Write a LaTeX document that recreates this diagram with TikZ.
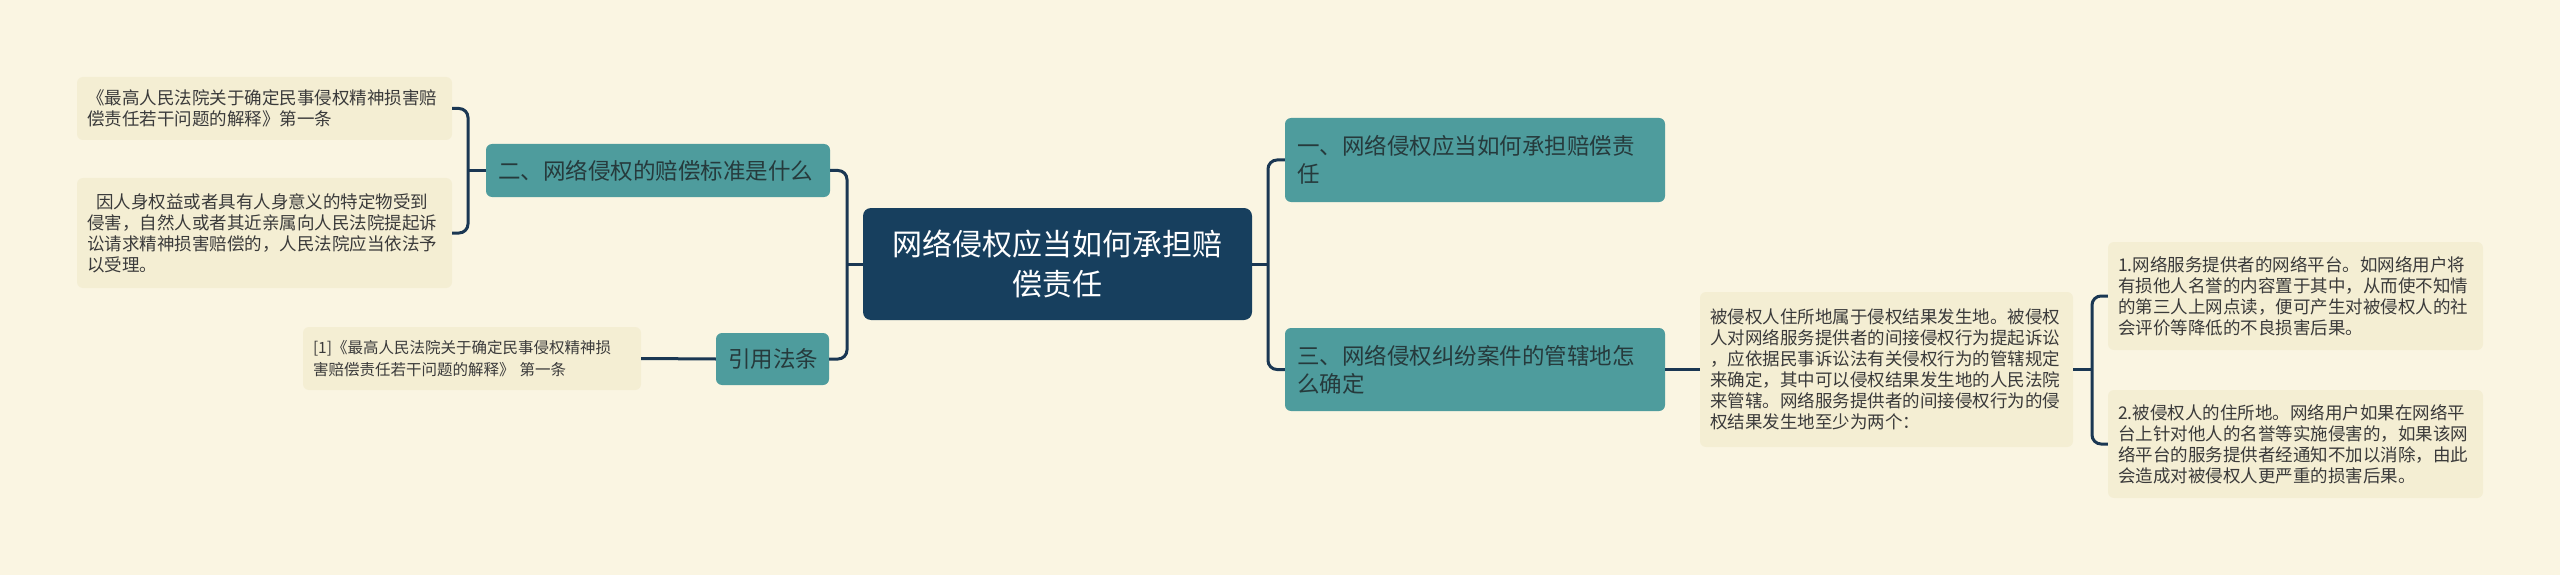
\documentclass[tikz,border=0pt]{standalone}
\usepackage{fontspec}
\newfontfamily\cjk{Noto Sans CJK SC}
\definecolor{bgc}{HTML}{FAF5E2}
\definecolor{leafc}{HTML}{F4EED3}
\definecolor{leaftext}{HTML}{3A3A3A}
\definecolor{tealc}{HTML}{4E9C9D}
\definecolor{topictext}{HTML}{263A3C}
\definecolor{navyc}{HTML}{173F5E}
\definecolor{linec}{HTML}{1A3753}
\begin{document}
\begin{tikzpicture}[x=1pt,y=-1pt,
  leaf/.style={fill=leafc, rounded corners=6pt, inner xsep=10pt, inner ysep=0pt, align=left,
    font=\cjk\fontsize{17.5}{21}\selectfont, text=leaftext},
  smallleaf/.style={leaf, font=\cjk\fontsize{15.5}{21.5}\selectfont},
  topic/.style={fill=tealc, rounded corners=6pt, inner xsep=12pt, inner ysep=0pt, align=left,
    font=\cjk\fontsize{22.5}{28}\selectfont, text=topictext},
  rootbox/.style={fill=navyc, rounded corners=8pt, inner xsep=10pt, inner ysep=0pt, align=center,
    font=\cjk\fontsize{30}{40}\selectfont, text=white},
  conn/.style={draw=linec, line width=3pt, rounded corners=9pt}]
\fill[bgc] (0,0) rectangle (2560,575);
\useasboundingbox (0,0) rectangle (2560,575);

% root
\node[rootbox, text width=369pt, minimum height=112pt] (c) at (1057.5,264) {网络侵权应当如何承担赔\\偿责任};

% right topics
\node[topic, text width=356pt, minimum height=84pt] (n1) at (1475,160) {一、网络侵权应当如何承担赔偿责\\任};
\node[topic, text width=356pt, minimum height=83pt] (n3) at (1475,369.5) {三、网络侵权纠纷案件的管辖地怎\\么确定};

% left topics
\node[topic, text width=320pt, minimum height=53pt] (n2) at (658,170.5) {二、网络侵权的赔偿标准是什么};
\node[topic, text width=89pt, minimum height=52pt] (ref) at (772.5,359) {引用法条};

% left leaves
\node[leaf, text width=355pt, minimum height=63pt] (L1) at (264.5,108.5) {《最高人民法院关于确定民事侵权精神损害赔\\偿责任若干问题的解释》第一条};
\node[leaf, text width=355pt, minimum height=110pt] (L2) at (264.5,233) {\hspace{9pt}因人身权益或者具有人身意义的特定物受到\\侵害，自然人或者其近亲属向人民法院提起诉\\讼请求精神损害赔偿的，人民法院应当依法予\\以受理。};
\node[smallleaf, text width=318pt, minimum height=63pt] (L3) at (472,358.5) {[1]《最高人民法院关于确定民事侵权精神损\\害赔偿责任若干问题的解释》 第一条};

% right leaves
\node[leaf, text width=353pt, minimum height=155pt] (R0) at (1886.5,369.5) {被侵权人住所地属于侵权结果发生地。被侵权\\人对网络服务提供者的间接侵权行为提起诉讼\\，应依据民事诉讼法有关侵权行为的管辖规定\\来确定，其中可以侵权结果发生地的人民法院\\来管辖。网络服务提供者的间接侵权行为的侵\\权结果发生地至少为两个：};
\node[leaf, text width=355pt, minimum height=108pt] (R1) at (2295.5,296) {1.网络服务提供者的网络平台。如网络用户将\\有损他人名誉的内容置于其中，从而使不知情\\的第三人上网点读，便可产生对被侵权人的社\\会评价等降低的不良损害后果。};
\node[leaf, text width=355pt, minimum height=108pt] (R2) at (2295.5,444) {2.被侵权人的住所地。网络用户如果在网络平\\台上针对他人的名誉等实施侵害的，如果该网\\络平台的服务提供者经通知不加以消除，由此\\会造成对被侵权人更严重的损害后果。};

% junction coordinates
\coordinate (jr) at (1268,264);
\coordinate (jl) at (847,264);
\coordinate (bl) at (468,170.5);
\coordinate (br) at (2092,369.5);

% connectors
\draw[conn] (c.east) -- (jr);
\draw[conn] (n1.west) -| (jr) |- (n3.west);
\draw[conn] (c.west) -- (jl);
\draw[conn] (n2.east) -| (jl) |- (ref.east);
\draw[conn] (n2.west) -- (bl);
\draw[conn] (L1.east) -| (bl) |- (L2.east);
\draw[conn] (ref.west) -- (L3.east);
\draw[conn] (n3.east) -- (R0.west);
\draw[conn] (R0.east) -- (br);
\draw[conn] (R1.west) -| (br) |- (R2.west);
\end{tikzpicture}
\end{document}
